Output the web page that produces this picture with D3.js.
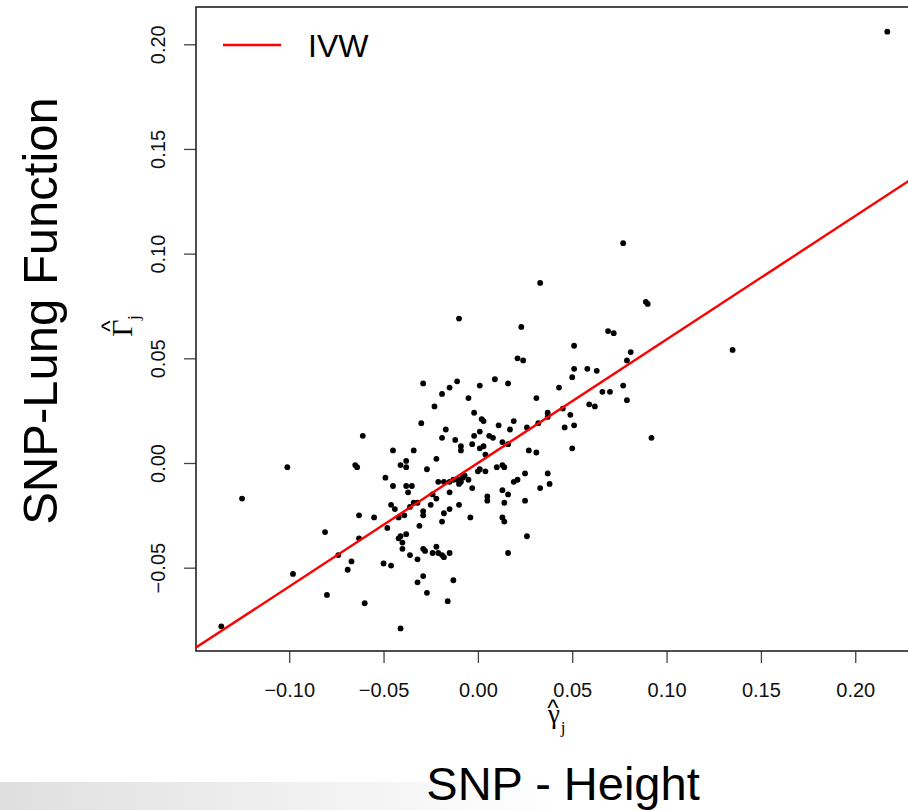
<!DOCTYPE html>
<html>
<head>
<meta charset="utf-8">
<script src="https://cdn.jsdelivr.net/npm/d3@7"></script>
<style>
  html, body { margin: 0; padding: 0; background: #ffffff; }
  svg { display: block; }
</style>
</head>
<body>
<script>
// ---- data ----
const gammaHat = [
  -0.101,-0.125,-0.136,-0.098,-0.081,-0.080,-0.074,-0.069,-0.067,-0.063,
  -0.063,-0.060,-0.065,-0.064,-0.055,-0.048,-0.049,-0.050,-0.046,-0.045,
  -0.041,-0.038,-0.038,-0.034,-0.045,-0.038,-0.035,-0.037,-0.046,-0.044,
  -0.042,-0.039,-0.036,-0.034,-0.032,-0.029,-0.029,-0.031,-0.038,-0.042,
  -0.041,-0.040,-0.040,-0.036,-0.032,-0.029,-0.028,-0.029,-0.032,-0.027,
  -0.041,-0.027,-0.022,-0.021,-0.025,-0.024,-0.022,-0.022,-0.024,-0.021,
  0.033,0.089,0.090,-0.010,0.023,0.069,0.072,0.051,0.081,0.079,
  0.021,0.024,0.051,0.058,0.063,0.050,0.009,-0.011,-0.029,-0.015,
  0.001,0.016,0.043,0.077,-0.019,-0.005,0.031,0.066,0.070,0.079,
  -0.023,0.059,0.062,-0.002,0.037,0.045,0.049,0.037,0.002,0.003,
  -0.030,0.011,0.019,0.032,0.026,0.017,0.046,0.051,-0.017,0.001,
  -0.002,0.006,0.008,-0.019,-0.012,-0.009,-0.009,-0.003,0.001,0.003,
  0.013,0.016,0.027,0.031,0.050,0.092,0.004,
  0.000,0.001,0.004,0.010,0.013,0.014,-0.015,-0.013,-0.011,-0.010,
  -0.008,-0.007,-0.009,-0.005,-0.010,-0.018,-0.003,-0.015,-0.010,-0.015,
  -0.018,-0.019,-0.004,0.005,0.005,0.013,0.016,0.014,0.019,0.021,
  0.025,0.025,0.013,0.014,0.037,0.038,0.033,0.026,-0.019,-0.018,
  -0.015,0.016,-0.013,-0.016,-0.061,0.135,0.217,0.077
];
const GammaHatY = [
  -0.002,-0.017,-0.078,-0.053,-0.033,-0.063,-0.044,-0.051,-0.047,-0.036,
  -0.025,-0.067,-0.001,-0.002,-0.026,-0.031,-0.007,-0.048,-0.049,0.006,
  -0.001,-0.002,0.001,0.006,-0.011,-0.011,-0.011,-0.014,-0.020,-0.022,
  -0.026,-0.025,-0.021,-0.019,-0.019,-0.023,-0.025,-0.030,-0.034,-0.036,
  -0.035,-0.038,-0.041,-0.044,-0.046,-0.041,-0.042,-0.054,-0.057,-0.062,
  -0.079,-0.003,0.002,-0.009,-0.020,-0.015,-0.017,-0.040,-0.043,-0.043,
  0.086,0.077,0.076,0.069,0.065,0.063,0.062,0.056,0.053,0.049,
  0.050,0.049,0.045,0.045,0.044,0.041,0.040,0.039,0.038,0.036,
  0.037,0.038,0.036,0.037,0.033,0.031,0.031,0.034,0.034,0.030,
  0.027,0.028,0.027,0.024,0.024,0.026,0.023,0.022,0.021,0.020,
  0.019,0.018,0.020,0.019,0.017,0.016,0.017,0.018,0.016,0.015,
  0.013,0.013,0.012,0.012,0.011,0.008,0.006,0.009,0.007,0.008,
  0.010,0.009,0.006,0.005,0.007,0.012,0.004,
  -0.004,-0.003,-0.004,-0.002,-0.001,-0.002,-0.009,-0.008,-0.008,-0.008,
  -0.007,-0.006,-0.009,-0.008,-0.010,-0.009,-0.012,-0.014,-0.020,-0.022,
  -0.024,-0.028,-0.026,-0.016,-0.018,-0.013,-0.015,-0.019,-0.009,-0.008,
  -0.005,-0.018,-0.026,-0.028,-0.005,-0.010,-0.012,-0.035,-0.044,-0.045,
  -0.043,-0.043,-0.056,-0.066,0.013,0.054,0.206,0.105
];
const ivwSlope = 0.59;            // IVW estimate (line through origin)
const xTickValues = [-0.10, -0.05, 0.00, 0.05, 0.10, 0.15, 0.20];
const xTickLabels = ["\u22120.10", "\u22120.05", "0.00", "0.05", "0.10", "0.15", "0.20"];
const yTickValues = [-0.05, 0.00, 0.05, 0.10, 0.15, 0.20];
const yTickLabels = ["\u22120.05", "0.00", "0.05", "0.10", "0.15", "0.20"];
const xDomain = [-0.1494, 0.2322];
const yDomain = [-0.0898, 0.2178];
const legendLabel = "IVW";
const xTitle = "SNP - Height";
const yTitle = "SNP-Lung Function";

// ---- layout ----
const W = 908, H = 810;
const plot = { left: 196, right: 916, top: 7, bottom: 651 };
const sansFont = "'Liberation Sans', Arial, Helvetica, sans-serif";
const serifFont = "'Liberation Serif', 'DejaVu Serif', serif";

const svg = d3.select("body").append("svg").attr("width", W).attr("height", H);

// slide-style grey band at the bottom
const defs = svg.append("defs");
const grad = defs.append("linearGradient").attr("id", "band").attr("x1", "0%").attr("x2", "100%");
grad.append("stop").attr("offset", "0%").attr("stop-color", "#dfdfdf");
grad.append("stop").attr("offset", "100%").attr("stop-color", "#ffffff");
svg.append("rect").attr("x", 0).attr("y", 782).attr("width", 560).attr("height", 28).attr("fill", "url(#band)");

const x = d3.scaleLinear().domain(xDomain).range([plot.left, plot.right]);
const y = d3.scaleLinear().domain(yDomain).range([plot.bottom, plot.top]);

const clip = defs.append("clipPath").attr("id", "plotclip");
clip.append("rect").attr("x", plot.left).attr("y", plot.top)
  .attr("width", plot.right - plot.left).attr("height", plot.bottom - plot.top);

// axes
const xAxis = d3.axisBottom(x).tickValues(xTickValues)
  .tickFormat((d, i) => xTickLabels[i]).tickSize(12).tickPadding(20);
const gx = svg.append("g").attr("transform", `translate(0,${plot.bottom})`).call(xAxis);
gx.select(".domain").remove();
gx.selectAll(".tick line").attr("stroke", "#444").attr("stroke-width", 1.3);
gx.selectAll(".tick text").attr("font-family", sansFont).attr("font-size", 20).attr("fill", "#111");

const yAxis = d3.axisLeft(y).tickValues(yTickValues)
  .tickFormat((d, i) => yTickLabels[i]).tickSize(12);
const gy = svg.append("g").attr("transform", `translate(${plot.left},0)`).call(yAxis);
gy.select(".domain").remove();
gy.selectAll(".tick line").attr("stroke", "#444").attr("stroke-width", 1.3);
gy.selectAll(".tick text")
  .attr("x", null).attr("dy", null)
  .attr("transform", "translate(-31,0) rotate(-90)")
  .attr("text-anchor", "middle")
  .attr("font-family", sansFont).attr("font-size", 20).attr("fill", "#111");

// plot box
svg.append("rect").attr("x", plot.left).attr("y", plot.top)
  .attr("width", plot.right - plot.left).attr("height", plot.bottom - plot.top)
  .attr("fill", "none").attr("stroke", "#222").attr("stroke-width", 1.6);

// points
const pts = gammaHat.map((g, i) => ({ g, G: GammaHatY[i] }));
svg.append("g").attr("clip-path", "url(#plotclip)")
  .selectAll("circle").data(pts).join("circle")
  .attr("cx", d => x(d.g)).attr("cy", d => y(d.G)).attr("r", 2.9).attr("fill", "#000");

// IVW line
const line = d3.line().x(d => x(d)).y(d => y(ivwSlope * d));
svg.append("path").attr("clip-path", "url(#plotclip)")
  .datum(xDomain).attr("d", line)
  .attr("fill", "none").attr("stroke", "#ff0000").attr("stroke-width", 2.4);

// legend
const lg = svg.append("g");
lg.append("line").attr("x1", 223).attr("x2", 281).attr("y1", 45).attr("y2", 45)
  .attr("stroke", "#ff0000").attr("stroke-width", 2.4);
lg.append("text").attr("x", 308).attr("y", 57).attr("font-family", sansFont)
  .attr("font-size", 32).attr("fill", "#000").text(legendLabel);

// small math axis labels
const gl = svg.append("g").attr("font-family", serifFont).attr("fill", "#000");
gl.append("text").attr("x", 554).attr("y", 723).attr("text-anchor", "middle").attr("font-size", 27).text("\u03b3");
gl.append("text").attr("x", 553).attr("y", 716).attr("text-anchor", "middle").attr("font-size", 24).attr("font-family", sansFont).text("^");
gl.append("text").attr("x", 563).attr("y", 733).attr("text-anchor", "middle").attr("font-size", 17).text("j");

const yl = svg.append("g").attr("transform", "translate(132,328) rotate(-90)")
  .attr("font-family", serifFont).attr("fill", "#000");
yl.append("text").attr("x", 0).attr("y", 0).attr("text-anchor", "middle").attr("font-size", 30).text("\u0393");
yl.append("text").attr("x", 2).attr("y", -14).attr("text-anchor", "middle").attr("font-size", 24).attr("font-family", sansFont).text("^");
yl.append("text").attr("x", 8).attr("y", 7).attr("text-anchor", "start").attr("font-size", 17).text("j");

// big titles
svg.append("text").attr("x", 563).attr("y", 800).attr("text-anchor", "middle")
  .attr("font-family", sansFont).attr("font-size", 47).attr("fill", "#000").text(xTitle);
svg.append("text").attr("transform", "translate(57,311) rotate(-90)").attr("text-anchor", "middle")
  .attr("font-family", sansFont).attr("font-size", 49).attr("fill", "#000").text(yTitle);
</script>
</body>
</html>
